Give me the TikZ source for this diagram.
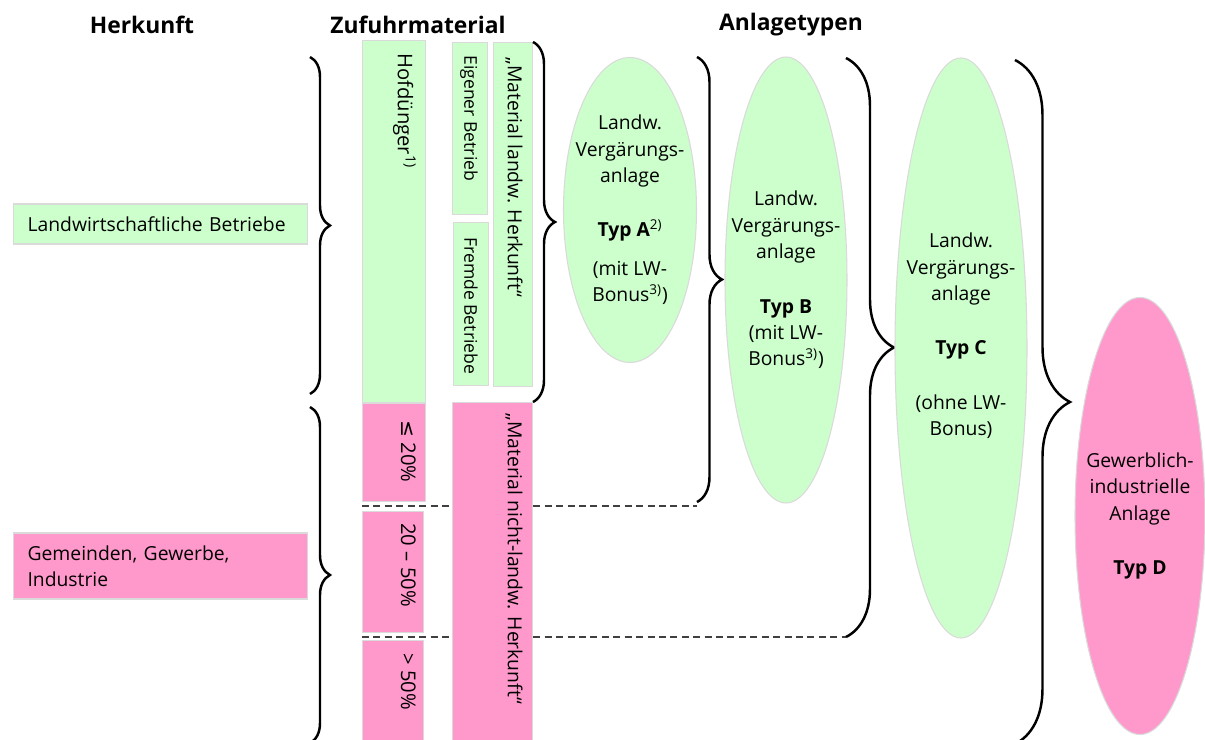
\documentclass[tikz,border=0pt]{standalone}
\usepackage{fontspec}
\setmainfont{Open Sans}
\newfontfamily\symfont{DejaVu Sans}
\usetikzlibrary{shapes.geometric}
\usetikzlibrary{decorations.pathreplacing}
\definecolor{lwgreen}{HTML}{CCFFCC}
\definecolor{gipink}{HTML}{FF99CC}
\definecolor{rimgray}{HTML}{DADADA}
\newcommand{\pxl}{0.02cm}
\tikzset{
    box/.style={draw=rimgray, line width=0.6pt, inner sep=0pt, anchor=north west},
    vtext/.style={rotate=-90, anchor=north west, inner sep=0pt},
    small/.style={font=\fontsize{10}{12}\selectfont},
    head/.style={font=\fontsize{13}{15}\selectfont\bfseries},
    ell/.style={ellipse, draw=rimgray, line width=0.6pt, inner sep=0pt},
    etext/.style={align=center, inner sep=0pt},
    curly/.style={decorate, decoration={brace, amplitude=#1}, line width=1.4pt},
    guide/.style={dash pattern=on 4pt off 2.5pt, black!75, line width=0.6pt},
}

\begin{document}
\begin{tikzpicture}[x=\pxl, y=-\pxl, font=\fontsize{11}{15}\selectfont]
    \useasboundingbox (0,0) rectangle (1205,740);

    \node[head] (hher) at (142,25) {Herkunft};
    \node[head] (hzuf) at (418,25) {Zufuhrmaterial};
    \node[head] (hanl) at (791,25) {Anlagetypen};

    \node[box, anchor=west, fill=lwgreen, minimum width=294*\pxl, minimum height=40*\pxl,
        text width=266*\pxl, align=left] (lwb) at (13,224) {Landwirtschaftliche Betriebe};
    \node[box, anchor=west, fill=gipink, minimum width=294*\pxl, minimum height=66*\pxl,
        text width=266*\pxl, align=left] (ggi) at (13,566) {Gemeinden, Gewerbe,\\Industrie};

    \draw[curly=0.4cm] (310,57) -- (310,394);
    \draw[curly=0.4cm] (310,407) -- (310,743);

    % Trennlinien
    \coordinate (g1a) at (362,506);
    \coordinate (g1b) at (697,506);
    \coordinate (g2a) at (362,637);
    \coordinate (g2b) at (846,637);
    \draw[guide] (g1a) -- (g1b);
    \draw[guide] (g2a) -- (g2b);

    \node[box, fill=lwgreen, minimum width=63*\pxl, minimum height=362*\pxl] (hof) at (362,40) {};
    \node[box, fill=gipink, minimum width=63*\pxl, minimum height=98*\pxl] (p20) at (362,403) {};
    \node[box, fill=gipink, minimum width=61*\pxl, minimum height=121*\pxl] (p50) at (362,511) {};
    \node[box, fill=gipink, minimum width=61*\pxl, minimum height=110*\pxl] (p99) at (362,640) {};
    \node[box, fill=lwgreen, minimum width=35*\pxl, minimum height=172*\pxl] (eig) at (452,42) {};
    \node[box, fill=lwgreen, minimum width=35*\pxl, minimum height=163*\pxl] (fre) at (453,222) {};
    \node[box, fill=lwgreen, minimum width=39*\pxl, minimum height=344*\pxl] (mlw) at (493,42) {};
    \node[box, fill=gipink, minimum width=80*\pxl, minimum height=350*\pxl] (mnl) at (452,402) {};

    \node[vtext, font=\fontsize{11.5}{14}\selectfont] (hoft) at (416,53) {Hofdünger\textsuperscript{1)}};
    \node[vtext, font=\fontsize{11.5}{14}\selectfont] (p20t) at (416,420) {{\symfont ≤} 20\%};
    \node[vtext, font=\fontsize{11.5}{14}\selectfont] (p50t) at (416,523) {20 -- 50\%};
    \node[vtext, font=\fontsize{11.5}{14}\selectfont] (p99t) at (416,653) {> 50\%};
    \node[vtext, small] (eigt) at (478,55) {Eigener Betrieb};
    \node[vtext, small] (fret) at (478,237) {Fremde Betriebe};
    \node[vtext] (mlwt) at (523,57) {„Material landw. Herkunft“};
    \node[vtext] (mnlt) at (523,413) {„Material nicht-landw. Herkunft“};

    \draw[curly=0.44cm] (533,42) -- (533,402);

    \node[ell, fill=lwgreen, minimum width=133*\pxl, minimum height=305*\pxl] (ta) at (630,210) {};
    \node[etext] (tat) at (ta) {Landw.\\Vergärungs-\\anlage\\[16pt]\textbf{Typ A}\textsuperscript{2)}\\[7pt](mit LW-\\Bonus\textsuperscript{3)})};

    \draw[curly=0.5cm] (697,57) -- (697,502);

    \node[ell, fill=lwgreen, minimum width=122*\pxl, minimum height=446*\pxl] (tb) at (786,280) {};
    \node[etext] (tbt) at (tb) {Landw.\\Vergärungs-\\anlage\\[16pt]\textbf{Typ B}\\(mit LW-\\Bonus\textsuperscript{3)})};

    \draw[curly=0.96cm] (846,58) -- (846,637);

    \node[ell, fill=lwgreen, minimum width=132*\pxl, minimum height=580*\pxl] (tc) at (961,348) {};
    \node[etext] (tct) at (961,336) {Landw.\\Vergärungs-\\anlage\\[16pt]\textbf{Typ C}\\[16pt](ohne LW-\\Bonus)};

    \draw[curly=1.1cm] (1015,60) -- (1015,744);

    \node[ell, fill=gipink, minimum width=130*\pxl, minimum height=437*\pxl] (td) at (1140,516) {};
    \node[etext] (tdt) at (td) {Gewerblich-\\industrielle\\Anlage\\[16pt]\textbf{Typ D}};
\end{tikzpicture}
\end{document}
